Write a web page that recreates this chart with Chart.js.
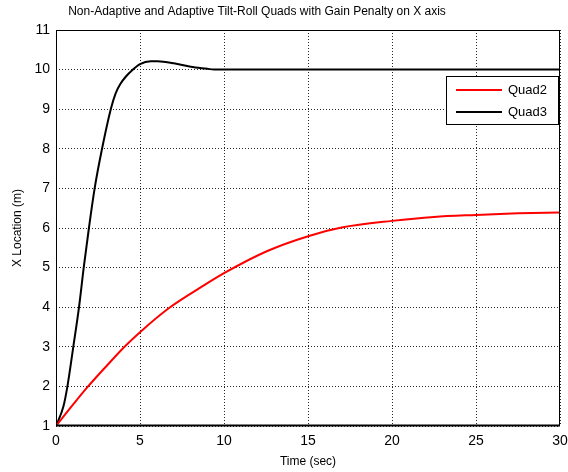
<!DOCTYPE html>
<html>
<head>
<meta charset="utf-8">
<script src="https://cdn.jsdelivr.net/npm/chart.js@4.4.0/dist/chart.umd.min.js"></script>
<style>
  body { margin: 0; background: #fff; }
  #wrap { width: 568px; height: 472px; }
</style>
</head>
<body>
<div id="wrap"><canvas id="myChart" width="568" height="472"></canvas></div>
<script>
// time (sec) and X location (m)
var quad2Time = [0, 1.07, 1.87, 3.06, 4.05, 5, 6.73, 8.8, 10, 12.58, 15.06, 17, 20, 22.5, 25, 27.5, 30];
var quad2X    = [1, 1.57, 1.98, 2.54, 2.99, 3.37, 3.98, 4.55, 4.86, 5.42, 5.8, 6.01, 6.18, 6.28, 6.33, 6.37, 6.39];

var quad3Time = [0, 0.44, 0.68, 1.03, 1.37, 1.65, 1.96, 2.3, 2.74, 3.26, 3.55, 3.85, 4.15, 4.55, 5, 5.64, 6.04, 7.02, 8.02, 9.01, 9.4, 30];
var quad3X    = [1, 1.49, 2, 3, 4, 5, 6, 7, 8, 9, 9.4, 9.65, 9.82, 9.99, 10.14, 10.21, 10.21, 10.16, 10.07, 10.02, 10, 10];

var xTicks = [0, 5, 10, 15, 20, 25, 30];
var yTicks = [1, 2, 3, 4, 5, 6, 7, 8, 9, 10, 11];

var titleText = 'Non-Adaptive and Adaptive Tilt-Roll Quads with Gain Penalty on X axis';

function toPoints(xs, ys) {
    return xs.map(function(x, i) { return {x: x, y: ys[i]}; });
}

var font = 'Liberation Sans, Arial, sans-serif';

// MATLAB-style title, box and legend drawn on top of the plot
var boxPlugin = {
    id: 'box',
    afterDraw: function(chart) {
        var ctx = chart.ctx, a = chart.chartArea;
        ctx.save();
        ctx.fillStyle = '#000';
        ctx.font = '12px ' + font;
        ctx.textAlign = 'center';
        ctx.textBaseline = 'middle';
        ctx.fillText(titleText, 257, 12);

        ctx.strokeStyle = '#000';
        ctx.lineWidth = 1;
        ctx.strokeRect(a.left + 0.5, a.top + 0.5, a.right - a.left - 1, a.bottom - a.top - 1);
        ctx.lineWidth = 2;
        ctx.beginPath();
        ctx.moveTo(a.left, a.bottom - 0.5);
        ctx.lineTo(a.right, a.bottom - 0.5);
        ctx.stroke();

        // legend
        var lx = a.right - 114, ly = a.top + 46, lw = 112, lh = 48;
        ctx.fillStyle = '#fff';
        ctx.fillRect(lx, ly, lw, lh);
        ctx.lineWidth = 1;
        ctx.strokeStyle = '#000';
        ctx.strokeRect(lx + 0.5, ly + 0.5, lw, lh);
        ctx.font = '13px ' + font;
        ctx.textAlign = 'left';
        ctx.textBaseline = 'middle';
        chart.data.datasets.forEach(function(ds, i) {
            var yy = ly + 14 + i * 22;
            ctx.strokeStyle = ds.borderColor;
            ctx.lineWidth = 2;
            ctx.beginPath();
            ctx.moveTo(lx + 10, yy);
            ctx.lineTo(lx + 56, yy);
            ctx.stroke();
            ctx.fillStyle = '#000';
            ctx.fillText(ds.label, lx + 62, yy);
        });
        ctx.restore();
    }
};

var ctx = document.getElementById('myChart').getContext('2d');
var myChart = new Chart(ctx, {
    type: 'line',
    data: {
        datasets: [{
            label: 'Quad2',
            data: toPoints(quad2Time, quad2X),
            borderColor: '#ff0000',
            borderWidth: 2,
            pointRadius: 0,
            cubicInterpolationMode: 'monotone',
            fill: false
        }, {
            label: 'Quad3',
            data: toPoints(quad3Time, quad3X),
            borderColor: '#000000',
            borderWidth: 2,
            pointRadius: 0,
            cubicInterpolationMode: 'monotone',
            fill: false
        }]
    },
    options: {
        responsive: false,
        animation: false,
        layout: { padding: { left: 10, right: 8, top: 30, bottom: 0 } },
        plugins: {
            legend: { display: false },
            tooltip: { enabled: false },
            title: { display: false }
        },
        scales: {
            x: {
                type: 'linear',
                min: 0, max: 30,
                afterBuildTicks: function(s) { s.ticks = xTicks.map(function(v) { return {value: v}; }); },
                afterFit: function(s) { s.height = 46; s.paddingLeft = 0; s.paddingRight = 0; },
                ticks: { color: '#000', font: { family: font, size: 14 }, padding: 7, maxRotation: 0 },
                grid: { color: 'rgba(0,0,0,0.85)', lineWidth: 1, drawTicks: false },
                border: { display: false, dash: [1, 2] },
                title: { display: true, text: 'Time (sec)', color: '#000', font: { family: font, size: 12 }, padding: { top: 0, bottom: 3 } }
            },
            y: {
                min: 1, max: 11,
                afterBuildTicks: function(s) { s.ticks = yTicks.map(function(v) { return {value: v}; }); },
                afterFit: function(s) { s.width = 46; s.paddingTop = 0; s.paddingBottom = 0; },
                ticks: { color: '#000', font: { family: font, size: 14 }, padding: 6 },
                grid: { color: 'rgba(0,0,0,0.85)', lineWidth: 1, drawTicks: false },
                border: { display: false, dash: [1, 2] },
                title: { display: true, text: 'X Location (m)', color: '#000', font: { family: font, size: 12 }, padding: { top: 0, bottom: 4 } }
            }
        }
    },
    plugins: [boxPlugin]
});
</script>
</body>
</html>
